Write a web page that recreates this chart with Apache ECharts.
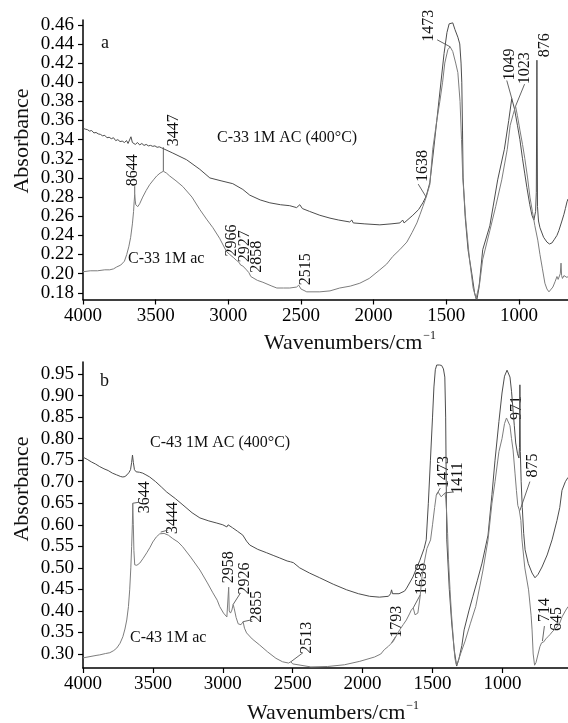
<!DOCTYPE html>
<html>
<head>
<meta charset="utf-8">
<script src="https://cdn.jsdelivr.net/npm/echarts@6/dist/echarts.min.js"></script>
<style>
html,body{margin:0;padding:0;background:#fff;}
#chart{width:568px;height:723px;}
</style>
</head>
<body>
<div id="chart"></div>
<script>
// ---- Panel a: C-33 spectra ----
const aHeatWn = [4000,3985,3970,3955,3940,3925,3910,3895,3880,3865,3850,3835,3820,3805,3790,3775,3760,3745,3730,3715,3700,3690,3680,3670,3660,3650,3640,3625,3610,3595,3580,3565,3550,3535,3520,3505,3490,3475,3460,3447,3382,3287,3196,3127,3050,2969,2900,2852,2780,2714,2640,2577,2530,2508,2490,2440,2370,2300,2240,2164,2150,2140,2060,1957,1880,1819,1800,1790,1730,1690,1661,1638,1613,1590,1565,1540,1515,1495,1480,1468,1455,1440,1420,1407,1398,1393,1388,1384,1370,1350,1324,1305,1290,1275,1249,1200,1146,1100,1070,1049,1030,1010,993,975,960,945,925,910,897,885,880,876,872,865,855,830,807,790,773,755,738,725,715,704,690,680,669,662];
const aHeatAbs = [.352,.351,.3505,.349,.3495,.347,.3475,.346,.3455,.344,.3445,.342,.3425,.341,.342,.339,.340,.338,.3385,.337,.339,.336,.3375,.343,.337,.339,.335,.337,.3345,.336,.334,.335,.3335,.334,.333,.3335,.332,.3325,.3315,.331,.326,.319,.309,.300,.297,.294,.288,.282,.277,.274,.272,.271,.269,.272,.268,.265,.261,.258,.256,.254,.256,.253,.252,.251,.252,.253,.256,.253,.261,.267,.274,.281,.295,.325,.36,.395,.43,.452,.461,.463,.462,.455,.447,.44,.42,.40,.35,.30,.26,.225,.20,.18,.172,.185,.225,.25,.298,.33,.36,.383,.372,.355,.34,.32,.305,.29,.272,.261,.256,.265,.285,.423,.27,.255,.248,.238,.233,.231,.232,.236,.24,.245,.243,.255,.262,.268,.275,.278];
const aRawWn = [4000,3950,3900,3850,3816,3790,3768,3740,3715,3699,3685,3672,3660,3652,3648,3644,3640,3637,3630,3623,3610,3589,3565,3541,3515,3493,3470,3447,3425,3403,3360,3313,3250,3196,3150,3106,3060,3012,2990,2966,2945,2927,2915,2900,2875,2858,2845,2800,2762,2700,2666,2620,2577,2530,2515,2500,2460,2370,2300,2233,2160,2095,2030,1957,1910,1868,1820,1771,1735,1702,1680,1661,1638,1613,1593,1565,1544,1525,1510,1489,1473,1455,1435,1420,1405,1395,1386,1365,1340,1315,1295,1285,1270,1249,1200,1160,1118,1080,1060,1040,1023,1010,993,975,959,940,924,907,890,870,855,838,821,807,793,780,766,750,738,730,724,715,710,706,700,690,680,669,662];
const aRawAbs = [.202,.203,.203,.204,.204,.205,.207,.209,.213,.220,.228,.238,.252,.265,.275,.283,.276,.272,.270,.270,.273,.280,.287,.293,.298,.302,.305,.307,.305,.302,.297,.291,.280,.267,.257,.248,.237,.223,.220,.217,.214,.212,.209,.208,.204,.201,.197,.193,.191,.187,.185,.185,.185,.186,.188,.184,.181,.181,.182,.185,.187,.19,.195,.204,.210,.218,.225,.233,.243,.253,.262,.27,.28,.293,.33,.36,.38,.40,.42,.434,.437,.432,.42,.41,.38,.34,.30,.255,.215,.185,.174,.174,.19,.215,.245,.27,.298,.33,.355,.366,.375,.365,.35,.335,.32,.30,.28,.265,.25,.235,.22,.205,.19,.184,.181,.183,.186,.192,.197,.194,.193,.20,.211,.198,.195,.198,.199,.196,.197];

// ---- Panel b: C-43 spectra ----
const bHeatWn = [4000,3970,3940,3910,3880,3850,3820,3790,3760,3730,3715,3700,3685,3670,3660,3652,3646,3640,3632,3620,3595,3573,3550,3523,3480,3440,3401,3340,3285,3220,3164,3100,3043,3000,2971,2962,2958,2952,2930,2895,2857,2830,2807,2750,2686,2640,2593,2540,2515,2505,2495,2450,2380,2307,2210,2114,2030,1950,1880,1815,1800,1793,1786,1775,1740,1700,1685,1640,1590,1560,1545,1530,1515,1500,1490,1480,1470,1450,1435,1422,1412,1406,1402,1398,1380,1363,1345,1327,1310,1290,1274,1240,1212,1180,1146,1103,1075,1053,1025,1003,985,967,955,946,935,924,915,905,892,882,878,875,872,866,858,848,838,815,788,767,745,717,680,645,610,590,574,550,531];
const bHeatAbs = [.757,.752,.746,.741,.735,.730,.726,.720,.716,.712,.711,.712,.716,.722,.728,.745,.762,.745,.728,.723,.722,.720,.716,.711,.700,.688,.676,.661,.646,.628,.616,.609,.604,.600,.595,.600,.604,.598,.593,.585,.576,.562,.553,.543,.535,.529,.523,.516,.514,.518,.512,.50,.488,.477,.462,.449,.440,.434,.432,.434,.44,.449,.44,.437,.44,.446,.453,.479,.518,.545,.565,.65,.75,.85,.92,.96,.971,.971,.970,.962,.943,.85,.70,.565,.45,.372,.31,.272,.29,.32,.356,.40,.433,.47,.511,.576,.67,.75,.84,.906,.945,.959,.955,.943,.91,.866,.83,.79,.765,.755,.78,.925,.77,.70,.64,.58,.542,.51,.488,.477,.485,.502,.53,.565,.61,.64,.68,.70,.71];
const bRawWn = [4000,3950,3900,3880,3840,3808,3780,3758,3735,3715,3700,3687,3675,3666,3658,3652,3647,3644,3640,3636,3630,3615,3594,3570,3544,3520,3501,3475,3451,3444,3420,3390,3358,3320,3287,3230,3164,3110,3071,3040,3022,2995,2971,2962,2958,2954,2945,2935,2926,2918,2905,2890,2870,2862,2855,2845,2830,2790,2737,2680,2620,2573,2530,2513,2500,2462,2370,2250,2130,2020,1915,1870,1845,1815,1800,1793,1780,1760,1735,1710,1687,1665,1652,1638,1625,1605,1590,1575,1560,1540,1514,1500,1485,1473,1460,1448,1438,1425,1411,1405,1400,1392,1386,1375,1365,1350,1340,1330,1320,1300,1267,1230,1191,1160,1139,1103,1075,1053,1025,1003,985,971,960,946,935,924,910,900,890,880,875,868,860,840,813,795,788,780,770,760,745,732,720,714,705,690,675,660,645,630,610,590,574,550,531];
const bRawAbs = [.291,.294,.297,.298,.301,.303,.308,.314,.325,.34,.358,.379,.41,.449,.50,.55,.60,.65,.60,.54,.507,.506,.511,.522,.535,.548,.56,.572,.579,.583,.58,.576,.568,.56,.549,.525,.495,.465,.442,.425,.41,.395,.386,.39,.455,.40,.395,.402,.415,.405,.385,.37,.368,.37,.375,.36,.349,.335,.321,.305,.29,.282,.279,.282,.277,.275,.27,.271,.275,.283,.293,.30,.31,.318,.323,.326,.33,.342,.356,.368,.379,.393,.402,.407,.391,.395,.43,.48,.511,.545,.565,.60,.64,.669,.676,.672,.665,.668,.674,.66,.634,.58,.52,.45,.395,.33,.29,.275,.28,.30,.33,.37,.41,.46,.495,.565,.65,.70,.77,.80,.835,.848,.845,.83,.80,.774,.72,.68,.645,.635,.633,.61,.565,.50,.449,.39,.356,.30,.274,.28,.30,.317,.326,.33,.328,.335,.34,.345,.351,.356,.363,.372,.386,.40,.41];

// ---- Axis ticks ----
const wnTicks = [4000,3500,3000,2500,2000,1500,1000];
const aAbsTicks = [0.18,0.20,0.22,0.24,0.26,0.28,0.30,0.32,0.34,0.36,0.38,0.40,0.42,0.44,0.46];
const bAbsTicks = [0.30,0.35,0.40,0.45,0.50,0.55,0.60,0.65,0.70,0.75,0.80,0.85,0.90,0.95];

// ---- Band assignments (text, wavenumber, absorbance on the curve) ----
const aBandText = ['3447','8644','2966','2927','2858','2515','1638','1473','1049','1023','876'];
const aBandWn = [3447,3644,2966,2927,2858,2515,1638,1473,1049,1023,876];
const aBandAbs = [0.307,0.283,0.217,0.212,0.201,0.188,0.28,0.437,0.383,0.375,0.423];
const bBandText = ['3644','3444','2958','2926','2855','2513','1793','1638','1473','1411','971','875','714','645'];
const bBandWn = [3644,3444,2958,2926,2855,2513,1793,1638,1473,1411,971,875,714,645];
const bBandAbs = [0.65,0.583,0.455,0.415,0.375,0.282,0.326,0.407,0.669,0.674,0.848,0.633,0.33,0.351];

// label placement: [dx, dy] of the text centre from the band point, optional leader start [lx, ly]
const aBandPlace = [[10,-41,0,-24],[-2,-24,0,-8],[-1,-17],[6,-16],[8,-16],[7,-16],[-3,-31,-8,-13],[-21,-21,-13,-7],[-2,-34,-5,-18],[9,-38,9,-22],[8,-15]];
const bBandPlace = [[12,-6,6,-1],[12,-14,7,-2],[0,-20],[12,-26,7,-11],[14,-15,9,-2],[16,-24,12,-9],[5,-21,4,-6],[9,-29,7,-13],[7,-23,4,-7],[13,-15,9,-1],[10,-10],[13,-45,10,-29],[2,-31,2,-15],[5,-13]];

const SERIF = '"Liberation Serif", "DejaVu Serif", serif';
const zip = (xs, ys) => xs.map((x, i) => [x, ys[i]]);

function xAxisCfg(grid, min) {
  return {
    gridIndex: grid, type: 'value', inverse: true, min: min, max: 4000,
    axisLine: { show: true, onZero: false, lineStyle: { color: '#000', width: 1.5 } },
    axisTick: { show: true, length: 5, customValues: wnTicks, lineStyle: { color: '#000', width: 1.2 } },
    axisLabel: { customValues: wnTicks, formatter: v => String(Math.round(v)), fontFamily: SERIF, fontSize: 19, color: '#000', margin: 7 },
    splitLine: { show: false }
  };
}
function yAxisCfg(grid, min, max, ticks) {
  return {
    gridIndex: grid, type: 'value', min: min, max: max,
    axisLine: { show: true, onZero: false, lineStyle: { color: '#000', width: 1.5 } },
    axisTick: { show: true, length: 5, customValues: ticks, lineStyle: { color: '#000', width: 1.2 } },
    axisLabel: { customValues: ticks, formatter: v => v.toFixed(2), fontFamily: SERIF, fontSize: 19, color: '#000', margin: 9 },
    splitLine: { show: false }
  };
}
function spectrum(name, grid, data, color) {
  return {
    name: name, type: 'line', xAxisIndex: grid, yAxisIndex: grid, data: data,
    showSymbol: false, symbol: 'none', silent: true,
    lineStyle: { color: color, width: 1 }
  };
}

const chart = echarts.init(document.getElementById('chart'), null, { renderer: 'canvas' });
chart.setOption({
  animation: false,
  backgroundColor: '#fff',
  grid: [
    { left: 83, top: 20, width: 485, height: 279.5, containLabel: false, outerBoundsMode: 'none' },
    { left: 83, top: 362, width: 485, height: 306, containLabel: false, outerBoundsMode: 'none' }
  ],
  xAxis: [xAxisCfg(0, 662), xAxisCfg(1, 531)],
  yAxis: [yAxisCfg(0, 0.173, 0.465, aAbsTicks), yAxisCfg(1, 0.2675, 0.978, bAbsTicks)],
  series: [
    spectrum('C-33 1M AC (400°C)', 0, zip(aHeatWn, aHeatAbs), '#4d4d4d'),
    spectrum('C-33 1M ac', 0, zip(aRawWn, aRawAbs), '#7d7d7d'),
    spectrum('C-43 1M AC (400°C)', 1, zip(bHeatWn, bHeatAbs), '#4d4d4d'),
    spectrum('C-43 1M ac', 1, zip(bRawWn, bRawAbs), '#7d7d7d')
  ]
});

// static captions
const graphics = [];
function text(x, y, str, size, opts) {
  graphics.push(Object.assign({
    type: 'text', x: x, y: y, silent: true,
    style: { text: str, font: size + 'px ' + SERIF, fill: '#111', align: 'left', verticalAlign: 'middle' }
  }, opts || {}));
}
function vtext(x, y, str, size) {
  text(x, y, str, size, { rotation: Math.PI / 2, style: { text: str, font: size + 'px ' + SERIF, fill: '#111', align: 'center', verticalAlign: 'middle' } });
}
vtext(22, 141, 'Absorbance', 22);
vtext(22, 489, 'Absorbance', 22);
function axisTitle(x, y) {
  graphics.push({
    type: 'text', x: x, y: y, silent: true,
    style: {
      text: '{m|Wavenumbers/cm}{s|−1}', align: 'center', verticalAlign: 'middle',
      rich: {
        m: { fontSize: 22, fontFamily: SERIF, fill: '#111', lineHeight: 26 },
        s: { fontSize: 12, fontFamily: SERIF, fill: '#111', verticalAlign: 'top', padding: [0, 0, 0, 1] }
      }
    }
  });
}
axisTitle(350, 343);
axisTitle(333, 713);
text(101, 43, 'a', 18);
text(100, 381, 'b', 18);
text(217, 138, 'C-33 1M AC (400°C)', 16);
text(128, 259, 'C-33 1M ac', 16);
text(150, 443, 'C-43 1M AC (400°C)', 16);
text(130, 638, 'C-43 1M ac', 16);

// band labels with leaders, placed through the axis scales
function bands(grid, txt, wn, ab, place) {
  txt.forEach((t, i) => {
    const p = chart.convertToPixel({ gridIndex: grid }, [wn[i], ab[i]]);
    const pl = place[i];
    graphics.push({
      type: 'text', x: p[0] + pl[0], y: p[1] + pl[1], rotation: Math.PI / 2, silent: true,
      style: { text: t, font: '16px ' + SERIF, fill: '#111', align: 'center', verticalAlign: 'middle' }
    });
    if (pl.length > 2) {
      graphics.push({
        type: 'line', silent: true,
        shape: { x1: p[0] + pl[2], y1: p[1] + pl[3], x2: p[0], y2: p[1] },
        style: { stroke: '#555', lineWidth: 0.9 }
      });
    }
  });
}
bands(0, aBandText, aBandWn, aBandAbs, aBandPlace);
bands(1, bBandText, bBandWn, bBandAbs, bBandPlace);

chart.setOption({ graphic: { elements: graphics } });
</script>
</body>
</html>
